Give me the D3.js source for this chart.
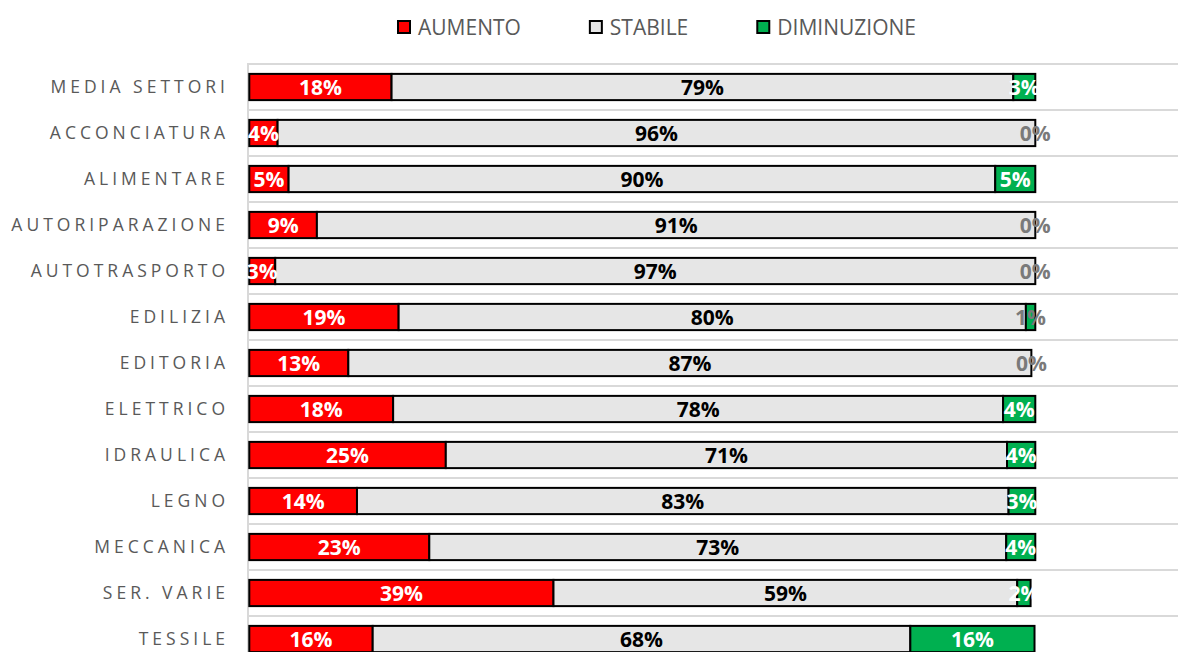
<!DOCTYPE html>
<html>
<head>
<meta charset="utf-8">
<script src="https://cdn.jsdelivr.net/npm/d3@7"></script>
<style>
  html, body { margin: 0; padding: 0; background: #fff; }
  svg { display: block; }
</style>
</head>
<body>
<svg id="chart" width="1178" height="652"></svg>
<script>
// categories, top to bottom
const categories = ["MEDIA SETTORI", "ACCONCIATURA", "ALIMENTARE", "AUTORIPARAZIONE", "AUTOTRASPORTO",
  "EDILIZIA", "EDITORIA", "ELETTRICO", "IDRAULICA", "LEGNO", "MECCANICA", "SER. VARIE", "TESSILE"];

// series values in %
const aumento     = [18.1, 3.6, 5.0, 8.6, 3.3, 19.0, 12.6, 18.3, 25.0, 13.7, 22.9, 38.7, 15.7];
const stabile     = [79.1, 96.4, 89.9, 91.4, 96.7, 79.8, 86.9, 77.6, 71.4, 82.9, 73.4, 59.0, 68.4];
const diminuzione = [2.8, 0, 5.1, 0, 0, 1.2, 0, 4.1, 3.6, 3.4, 3.7, 1.7, 15.8];

const seriesNames = ["AUMENTO", "STABILE", "DIMINUZIONE"];
const seriesColors = ["#ff0000", "#e6e6e6", "#00b050"];
const labelColors = ["#ffffff", "#000000", "#ffffff"];

const svg = d3.select("#chart");

// table for the stack layout
const table = categories.map((c, i) => ({
  cat: c, AUMENTO: aumento[i], STABILE: stabile[i], DIMINUZIONE: diminuzione[i]
}));
const stacked = d3.stack().keys(seriesNames)(table);

const x = d3.scaleLinear().domain([0, 100]).range([249.3, 1035.3]);
const y = d3.scaleBand().domain(categories).range([64, 64 + 46 * categories.length])
  .paddingInner(0.43).paddingOuter(0.215);

// horizontal gridlines between rows
const gridYs = d3.range(categories.length + 1).map(i => 64 + i * y.step());
svg.append("g").selectAll("line")
  .data(gridYs)
  .join("line")
  .attr("x1", 248).attr("x2", 1178)
  .attr("y1", d => d).attr("y2", d => d)
  .attr("stroke", "#d9d9d9")
  .attr("stroke-width", 2);

// vertical axis line
svg.append("line")
  .attr("x1", 248).attr("x2", 248)
  .attr("y1", 63).attr("y2", 652)
  .attr("stroke", "#d9d9d9")
  .attr("stroke-width", 2);

// category labels
svg.append("g").selectAll("text")
  .data(categories)
  .join("text")
  .attr("x", 229)
  .attr("y", d => y(d) + y.bandwidth() / 2)
  .attr("dy", "0.36em")
  .attr("text-anchor", "end")
  .style("font-family", "'Open Sans', sans-serif")
  .style("font-size", "17.5px")
  .style("letter-spacing", "4px")
  .attr("fill", "#595959")
  .text(d => d);

// bars
const layers = svg.append("g").selectAll("g")
  .data(stacked)
  .join("g")
  .attr("fill", (d, i) => seriesColors[i]);

layers.selectAll("rect")
  .data(d => d.filter(s => s[1] - s[0] > 0))
  .join("rect")
  .attr("x", d => x(d[0]))
  .attr("y", d => y(d.data.cat))
  .attr("width", d => x(d[1]) - x(d[0]))
  .attr("height", y.bandwidth())
  .attr("stroke", "#000")
  .attr("stroke-width", 2);

// data labels, drawn over all bars
const labels = svg.append("g");
stacked.forEach((layer, si) => {
  labels.selectAll(null)
    .data(layer)
    .join("text")
    .attr("x", d => (x(d[0]) + x(d[1])) / 2)
    .attr("y", d => y(d.data.cat) + y.bandwidth() / 2)
    .attr("dy", "0.37em")
    .attr("text-anchor", "middle")
    .style("font-family", "'Open Sans', sans-serif")
    .style("font-size", "21px")
    .style("font-weight", "bold")
    .attr("fill", d => (d[1] - d[0]) < 1.5 ? "#7a7a7a" : labelColors[si])
    .text(d => Math.round(d[1] - d[0]) + "%");
});

// legend
const legend = svg.append("g");
let lx = 398;
seriesNames.forEach((name, i) => {
  legend.append("rect")
    .attr("x", lx).attr("y", 21)
    .attr("width", 12).attr("height", 12)
    .attr("fill", seriesColors[i])
    .attr("stroke", "#000")
    .attr("stroke-width", 2);
  const t = legend.append("text")
    .attr("x", lx + 20)
    .attr("y", 27)
    .attr("dy", "0.36em")
    .style("font-family", "'Open Sans', sans-serif")
    .style("font-size", "21px")
    .attr("fill", "#595959")
    .text(name);
  lx += 20 + t.node().getComputedTextLength() + 69;
});
</script>
</body>
</html>
